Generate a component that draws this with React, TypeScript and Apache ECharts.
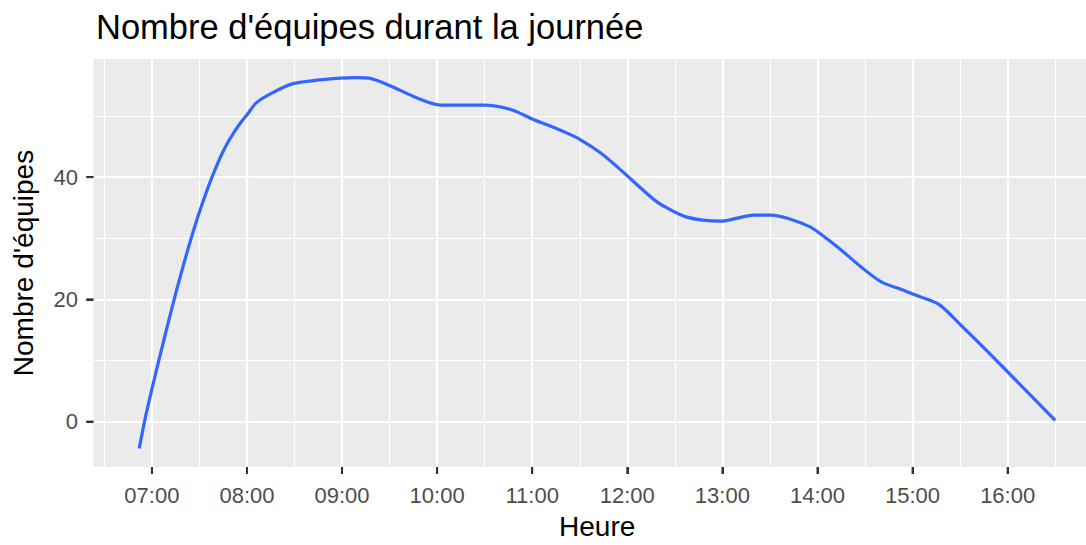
import React, { useEffect, useRef } from "react";
import * as echarts from "echarts";

// Time of day (HH:MM) and number of teams
const times = [
  "06:52", "06:56", "07:00", "07:04", "07:08", "07:12", "07:16", "07:20", "07:24", "07:28",
  "07:32", "07:36", "07:40", "07:44", "07:48", "07:52", "07:56", "08:00", "08:06", "08:16",
  "08:29", "08:42", "08:59", "09:08", "09:17", "09:30", "09:47", "10:02", "10:29", "10:46",
  "11:01", "11:11", "11:22", "11:30", "11:43", "11:54", "12:16", "12:22", "12:37", "12:59",
  "13:20", "13:31", "13:42", "13:55", "14:03", "14:14", "14:27", "14:40", "14:53", "15:04",
  "15:17", "15:30", "15:51", "16:30",
];
const teams = [
  -4.4, 0.8, 5.3, 9.6, 13.8, 17.9, 21.9, 25.7, 29.3, 32.7,
  35.8, 38.7, 41.3, 43.7, 45.7, 47.4, 48.9, 50.2, 52.2, 53.8,
  55.3, 55.8, 56.2, 56.3, 56.2, 55.0, 53.0, 51.8, 51.8, 51.1,
  49.4, 48.4, 47.2, 46.2, 44.0, 41.6, 36.5, 35.4, 33.5, 32.8,
  33.8, 33.8, 33.2, 31.9, 30.5, 28.3, 25.4, 22.9, 21.6, 20.5,
  19.1, 15.9, 10.5, 0.2,
];

const xMajorTicks = ["07:00", "08:00", "09:00", "10:00", "11:00", "12:00", "13:00", "14:00", "15:00", "16:00"];
const xMinorTicks = ["06:30", "07:30", "08:30", "09:30", "10:30", "11:30", "12:30", "13:30", "14:30", "15:30", "16:30"];
const yMajorTicks = [0, 20, 40];
const yMinorTicks = [10, 30, 50];

const FONT = '"Liberation Sans", Arial, sans-serif';
const TICK_LEN = 7;
const TICK_COLOR = "#333333";
const TICK_WIDTH = 2;

function toHours(s: string): number {
  const [h, m] = s.split(":").map(Number);
  return h + m / 60;
}
function pad(n: number): string {
  return n < 10 ? "0" + n : String(n);
}
function fmtHour(v: number): string {
  let h = Math.floor(v + 1e-6);
  let m = Math.round((v - h) * 60);
  if (m === 60) { h += 1; m = 0; }
  return pad(h) + ":" + pad(m);
}

export default function App() {
  const ref = useRef<HTMLDivElement>(null);

  useEffect(() => {
    if (!ref.current) return;
    const chart = echarts.init(ref.current, undefined, { renderer: "svg" });

    const xs = times.map(toHours);
    const xLo = Math.min(...xs);
    const xHi = Math.max(...xs);
    const xPad = (xHi - xLo) * 0.05;
    const yLo = Math.min(...teams);
    const yHi = Math.max(...teams);
    const yPad = (yHi - yLo) * 0.05;
    const xAxisMin = xLo - xPad;
    const xAxisMax = xHi + xPad;
    const yAxisMin = yLo - yPad;
    const yAxisMax = yHi + yPad;

    const data = xs.map((x, i) => [x, teams[i]]);
    const xMaj = xMajorTicks.map(toHours);
    const xMin = xMinorTicks.map(toHours);

    const labelStyle = { color: "#4D4D4D", fontSize: 22, fontFamily: FONT };
    const clearLine = { color: "rgba(0,0,0,0)", width: 1 };

    chart.setOption({
      animation: false,
      title: {
        text: "Nombre d'équipes durant la journée",
        left: 91,
        top: 4,
        textStyle: { color: "#000000", fontSize: 34.5, fontWeight: "normal", fontFamily: FONT },
      },
      grid: {
        left: 93.4,
        top: 59,
        width: 1007.6,
        height: 411,
        show: true,
        backgroundColor: "#EBEBEB",
        borderWidth: 0,
      },
      xAxis: [
        {
          type: "value",
          min: xAxisMin,
          max: xAxisMax,
          axisLine: { show: true, onZero: false, lineStyle: clearLine },
          axisTick: { show: true, customValues: xMaj, length: TICK_LEN, lineStyle: { color: TICK_COLOR, width: TICK_WIDTH } },
          axisLabel: { show: true, customValues: xMaj, formatter: (v: number) => fmtHour(v), margin: 17, ...labelStyle },
          splitLine: { show: true, lineStyle: { color: "#FFFFFF", width: 2.2 } },
          name: "Heure",
          nameLocation: "middle",
          nameGap: 45,
          nameTextStyle: { color: "#000000", fontSize: 28, fontFamily: FONT },
        },
        {
          type: "value",
          min: xAxisMin,
          max: xAxisMax,
          position: "top",
          axisLine: { show: false, onZero: false },
          axisTick: { show: false, customValues: xMin },
          axisLabel: { show: false, customValues: xMin },
          splitLine: { show: true, lineStyle: { color: "#FFFFFF", width: 1.1 } },
        },
      ],
      yAxis: [
        {
          type: "value",
          min: yAxisMin,
          max: yAxisMax,
          axisLine: { show: true, onZero: false, lineStyle: clearLine },
          axisTick: { show: true, customValues: yMajorTicks, length: TICK_LEN, lineStyle: { color: TICK_COLOR, width: TICK_WIDTH } },
          axisLabel: { show: true, customValues: yMajorTicks, margin: 15.5, ...labelStyle },
          splitLine: { show: true, lineStyle: { color: "#FFFFFF", width: 2.2 } },
          name: "Nombre d'équipes",
          nameLocation: "middle",
          nameRotate: 90,
          nameGap: 56,
          nameTextStyle: { color: "#000000", fontSize: 28, fontFamily: FONT },
        },
        {
          type: "value",
          min: yAxisMin,
          max: yAxisMax,
          position: "right",
          axisLine: { show: false, onZero: false },
          axisTick: { show: false, customValues: yMinorTicks },
          axisLabel: { show: false, customValues: yMinorTicks },
          splitLine: { show: true, lineStyle: { color: "#FFFFFF", width: 1.1 } },
        },
      ],
      series: [
        {
          type: "line",
          xAxisIndex: 0,
          yAxisIndex: 0,
          data,
          showSymbol: false,
          smooth: 0.3,
          lineStyle: { color: "#3366FF", width: 3.2 },
          z: 5,
        },
        {
          // x tick marks drawn through the axis scale (same spot as axisTick)
          type: "custom",
          xAxisIndex: 0,
          yAxisIndex: 0,
          clip: false,
          data: xMaj.map((v) => [v, yAxisMin]),
          renderItem: (params: any, api: any) => {
            const p = api.coord([api.value(0), api.value(1)]);
            return {
              type: "line",
              shape: { x1: p[0], y1: p[1], x2: p[0], y2: p[1] + TICK_LEN },
              style: { stroke: TICK_COLOR, lineWidth: TICK_WIDTH },
            };
          },
        },
        {
          // y tick marks
          type: "custom",
          xAxisIndex: 0,
          yAxisIndex: 0,
          clip: false,
          data: yMajorTicks.map((v) => [xAxisMin, v]),
          renderItem: (params: any, api: any) => {
            const p = api.coord([api.value(0), api.value(1)]);
            return {
              type: "line",
              shape: { x1: p[0] - TICK_LEN, y1: p[1], x2: p[0], y2: p[1] },
              style: { stroke: TICK_COLOR, lineWidth: TICK_WIDTH },
            };
          },
        },
      ],
    });

    return () => chart.dispose();
  }, []);

  return (
    <div style={{ position: "fixed", left: 0, top: 0, width: 1086, height: 545, overflow: "hidden", background: "#FFFFFF" }}>
      <div ref={ref} style={{ position: "absolute", left: 0, top: 0, width: 1110, height: 545 }} />
    </div>
  );
}
